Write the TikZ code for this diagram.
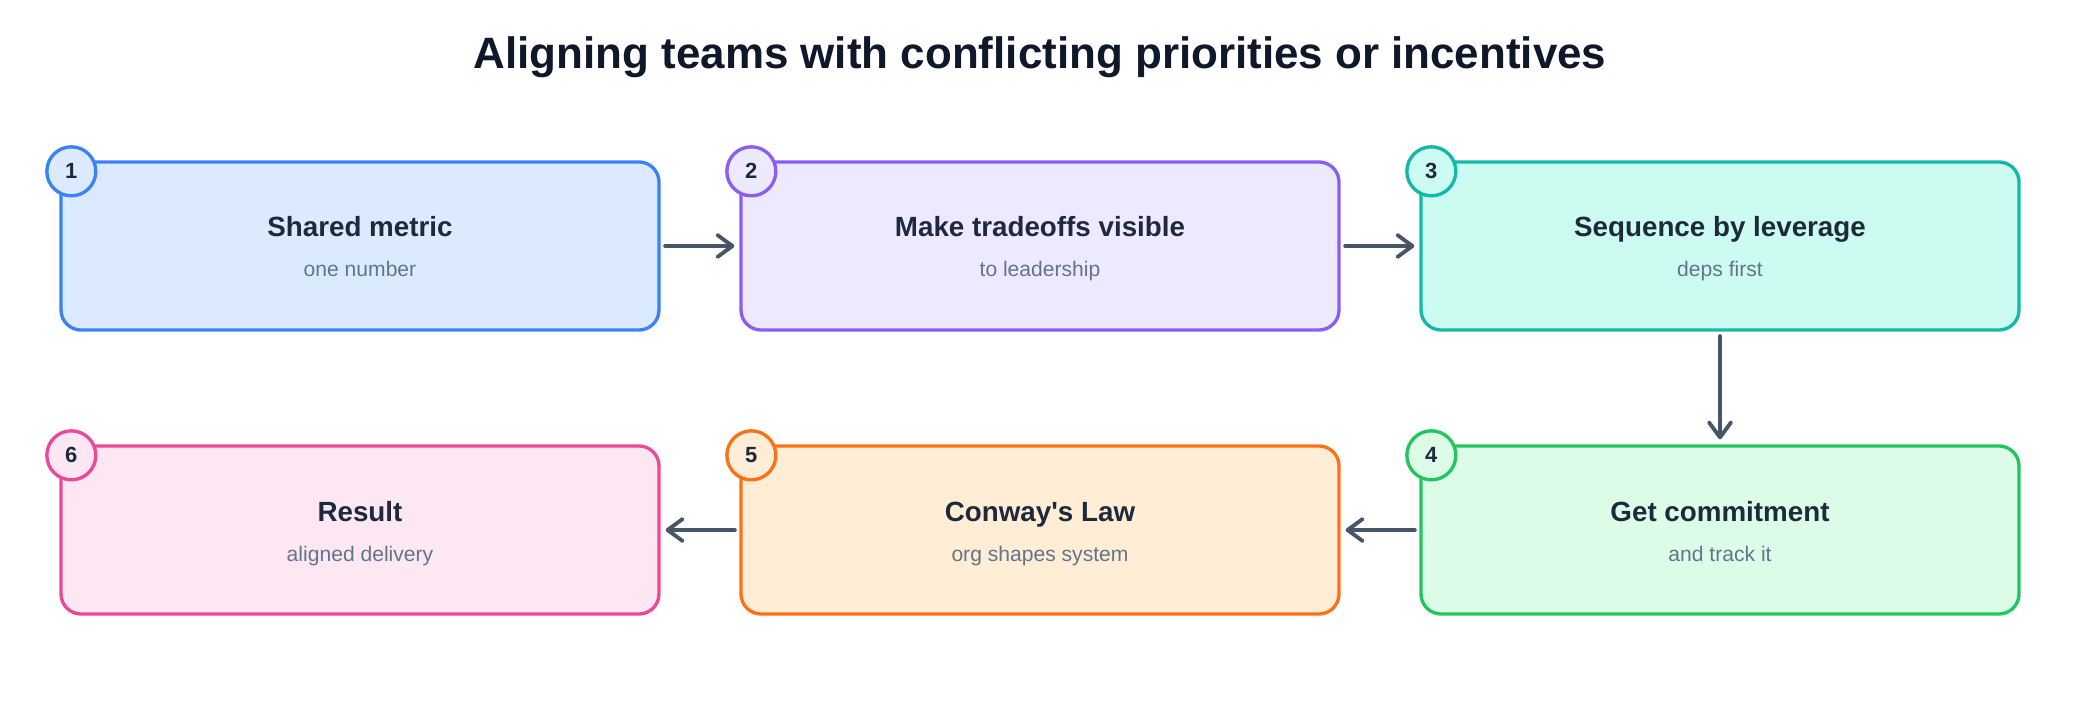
\documentclass[tikz,border=0pt]{standalone}
\usepackage{fontspec}
\setmainfont{Liberation Sans}
\usepackage{tikz}
\usetikzlibrary{positioning,arrows.meta}
\usepackage{xcolor}

\definecolor{titlec}{HTML}{0F172A}
\definecolor{headc}{HTML}{1E293B}
\definecolor{subc}{HTML}{64748B}
\definecolor{arrowc}{HTML}{475569}
\definecolor{blueline}{HTML}{3B82F6}   \definecolor{bluefill}{HTML}{DBEAFE}
\definecolor{violetline}{HTML}{8B5CF6} \definecolor{violetfill}{HTML}{EDE9FE}
\definecolor{tealline}{HTML}{14B8A6}   \definecolor{tealfill}{HTML}{CCFBF1}
\definecolor{greenline}{HTML}{22C55E}  \definecolor{greenfill}{HTML}{DCFCE7}
\definecolor{orangeline}{HTML}{F97316} \definecolor{orangefill}{HTML}{FFEDD5}
\definecolor{pinkline}{HTML}{EC4899}   \definecolor{pinkfill}{HTML}{FCE7F3}

\begin{document}
\begin{tikzpicture}[
    card/.style={draw,rounded corners=0.4cm,minimum width=11.96cm,minimum height=3.36cm,line width=1.9pt},
    badge/.style={draw,circle,minimum size=0.98cm,inner sep=0pt,line width=1.9pt,text=headc,font=\fontsize{12.5}{14}\selectfont\bfseries},
    head/.style={anchor=base,text=headc,font=\fontsize{15.8}{19}\selectfont\bfseries},
    sub/.style={anchor=base,text=subc,font=\fontsize{12}{14}\selectfont},
    arrow/.style={-{Straight Barb[length=0.3cm,width=0.44cm,round]},line width=2.2pt,arrowc,line cap=round,shorten <=0.09cm,shorten >=0.1cm},
]
\useasboundingbox (0,0) rectangle (41.6,14.08);

% Title
\node[anchor=base,text=titlec,font=\fontsize{25}{30}\selectfont\bfseries] (title) at (20.8,12.70)
  {Aligning teams with conflicting priorities or incentives};

% Cards, top row left to right, bottom row right to left
\node[card,draw=blueline,fill=bluefill]     (metric)    at (7.2,9.16)  {};
\node[card,draw=violetline,fill=violetfill] (tradeoffs) at (20.8,9.16) {};
\node[card,draw=tealline,fill=tealfill]     (sequence)  at (34.4,9.16) {};
\node[card,draw=greenline,fill=greenfill]   (commit)    at (34.4,3.48) {};
\node[card,draw=orangeline,fill=orangefill] (conway)    at (20.8,3.48) {};
\node[card,draw=pinkline,fill=pinkfill]     (result)    at (7.2,3.48)  {};

% Card texts
\node[head] (metrich)    at ([yshift=0.18cm]metric.center)     {Shared metric};
\node[sub]  (metrics)    at ([yshift=-0.62cm]metric.center)    {one number};
\node[head] (tradeoffsh) at ([yshift=0.18cm]tradeoffs.center)  {Make tradeoffs visible};
\node[sub]  (tradeoffss) at ([yshift=-0.62cm]tradeoffs.center) {to leadership};
\node[head] (sequenceh)  at ([yshift=0.18cm]sequence.center)   {Sequence by leverage};
\node[sub]  (sequences)  at ([yshift=-0.62cm]sequence.center)  {deps first};
\node[head] (commith)    at ([yshift=0.18cm]commit.center)     {Get commitment};
\node[sub]  (commits)    at ([yshift=-0.62cm]commit.center)    {and track it};
\node[head] (conwayh)    at ([yshift=0.18cm]conway.center)     {Conway\textquotesingle s Law};
\node[sub]  (conways)    at ([yshift=-0.62cm]conway.center)    {org shapes system};
\node[head] (resulth)    at ([yshift=0.18cm]result.center)     {Result};
\node[sub]  (results)    at ([yshift=-0.62cm]result.center)    {aligned delivery};

% Number badges on the top left corners
\node[badge,draw=blueline,fill=bluefill]     (b1) at ([xshift=0.24cm,yshift=-0.22cm]metric.north west)    {1};
\node[badge,draw=violetline,fill=violetfill] (b2) at ([xshift=0.24cm,yshift=-0.22cm]tradeoffs.north west) {2};
\node[badge,draw=tealline,fill=tealfill]     (b3) at ([xshift=0.24cm,yshift=-0.22cm]sequence.north west)  {3};
\node[badge,draw=greenline,fill=greenfill]   (b4) at ([xshift=0.24cm,yshift=-0.22cm]commit.north west)    {4};
\node[badge,draw=orangeline,fill=orangefill] (b5) at ([xshift=0.24cm,yshift=-0.22cm]conway.north west)    {5};
\node[badge,draw=pinkline,fill=pinkfill]     (b6) at ([xshift=0.24cm,yshift=-0.22cm]result.north west)    {6};

% Flow
\draw[arrow] (metric)    -- (tradeoffs);
\draw[arrow] (tradeoffs) -- (sequence);
\draw[arrow] (sequence)  -- (commit);
\draw[arrow] (commit)    -- (conway);
\draw[arrow] (conway)    -- (result);
\end{tikzpicture}
\end{document}
